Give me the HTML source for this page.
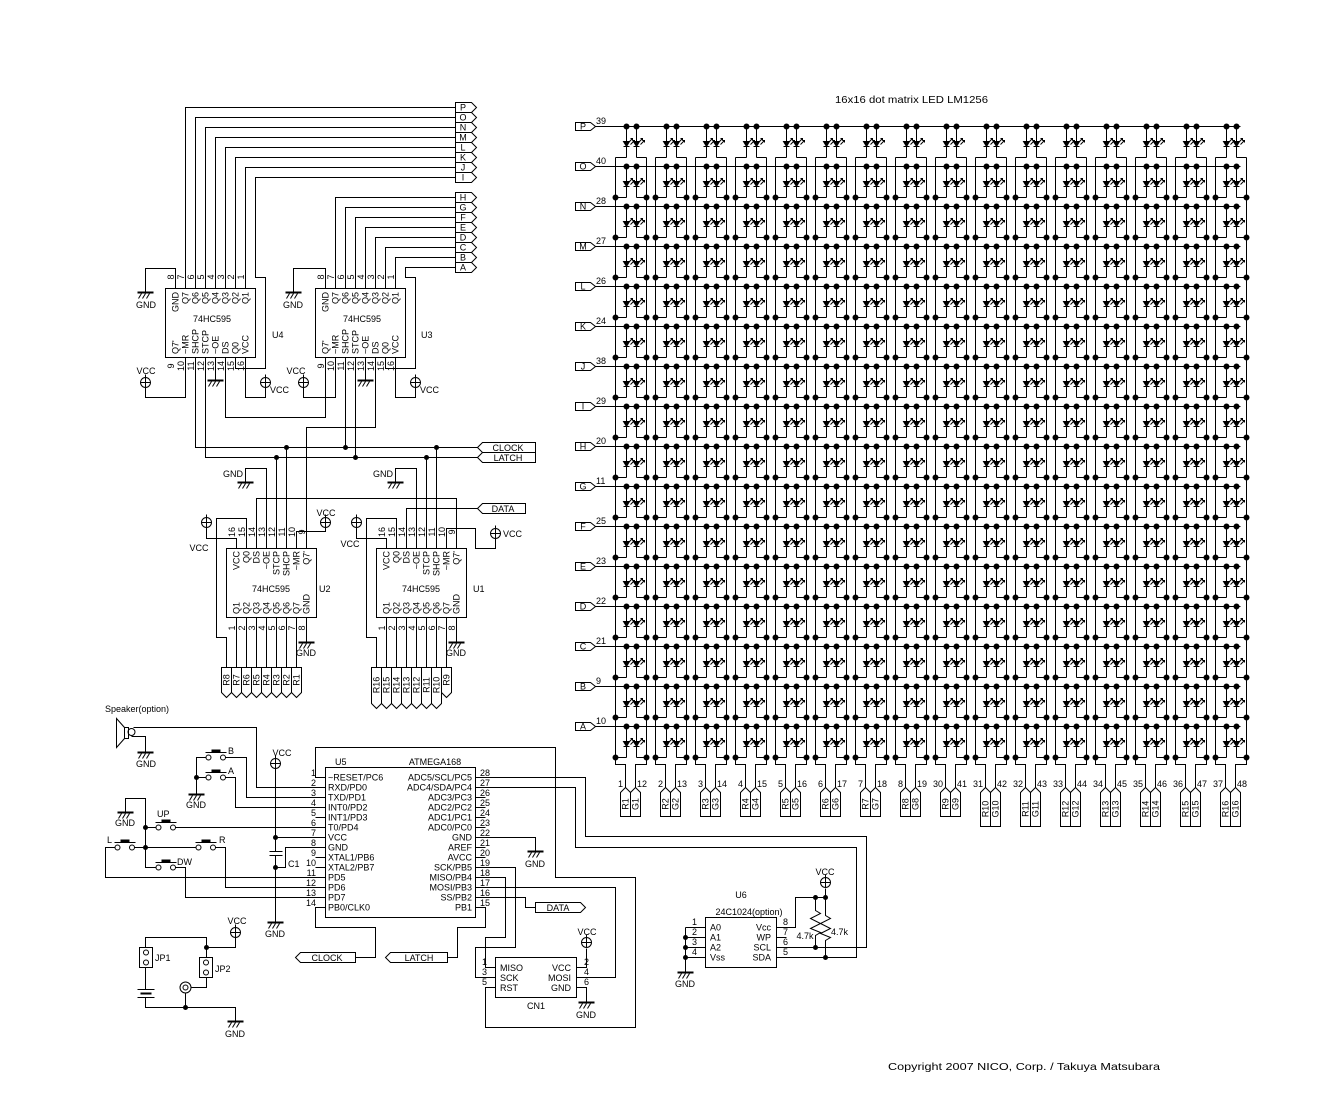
<!DOCTYPE html>
<html><head><meta charset="utf-8"><style>
html,body{margin:0;padding:0;background:#fff}
svg{display:block}
text{font-family:"Liberation Sans",sans-serif;font-size:9px;fill:#000}
.m{text-anchor:middle}.e{text-anchor:end}
.b{font-size:10px}
</style></head><body>
<svg xmlns="http://www.w3.org/2000/svg" width="1323" height="1105" viewBox="0 0 1323 1105">
<rect width="1323" height="1105" fill="#fff"/>
<defs>
<g id="gnd" fill="none" stroke="#000"><path d="M-8,0H8" stroke-width="2"/><path d="M-4,1L-7,6M0,1L-3,6M4,1L1,6"/></g>
<g id="vcc" fill="none" stroke="#000"><circle r="5"/><path d="M-5,0H5M0,-8V5"/></g>
<g id="sw" stroke="#000"><circle r="2.5" fill="#fff"/><circle cx="14.5" r="2.5" fill="#fff"/><path d="M-3,-5H18" fill="none"/><rect x="3" y="-8" width="9" height="3" fill="#000" stroke="none"/></g>
<g id="led" fill="none" stroke="#000"><path d="M0,0V15M0,20V31M-3,20H3M2,16L6,12M4,12H6V14M4,18L8,14M6,14H8V16"/><path d="M-3,15H3L0,20Z" fill="#000"/></g>
<g id="c"><path d="M0,-9V31H11M21,31H31V-9" fill="none" stroke="#000"/><use href="#led" x="11"/><use href="#led" x="21"/><g fill="#000"><circle cx="11" r="2.5"/><circle cx="21" r="2.5"/><circle cy="31" r="2.5"/><circle cx="31" cy="31" r="2.5"/></g></g>
<g id="ct"><path d="M0,31H11M21,31H31" fill="none" stroke="#000"/><use href="#led" x="11"/><use href="#led" x="21"/><g fill="#000"><circle cx="11" r="2.5"/><circle cx="21" r="2.5"/></g></g>
<g id="rn"><use href="#c"/><use href="#c" x="40"/><use href="#c" x="80"/><use href="#c" x="120"/><use href="#c" x="160"/><use href="#c" x="200"/><use href="#c" x="240"/><use href="#c" x="280"/><use href="#c" x="320"/><use href="#c" x="360"/><use href="#c" x="400"/><use href="#c" x="440"/><use href="#c" x="480"/><use href="#c" x="520"/><use href="#c" x="560"/><use href="#c" x="600"/></g>
<g id="rt"><use href="#ct"/><use href="#ct" x="40"/><use href="#ct" x="80"/><use href="#ct" x="120"/><use href="#ct" x="160"/><use href="#ct" x="200"/><use href="#ct" x="240"/><use href="#ct" x="280"/><use href="#ct" x="320"/><use href="#ct" x="360"/><use href="#ct" x="400"/><use href="#ct" x="440"/><use href="#ct" x="480"/><use href="#ct" x="520"/><use href="#ct" x="560"/><use href="#ct" x="600"/></g>
<path id="cb" fill="none" stroke="#000" d="M0,31V38H10V61M31,31V38H20V61M5,90V66L10,61L15,66L20,61L25,66V90ZM15,66V90"/>
<path id="cbl" fill="none" stroke="#000" d="M0,31V38H10V61M31,31V38H20V61M5,100V66L10,61L15,66L20,61L25,66V100ZM15,66V100"/>
<path id="dn" fill="none" stroke="#000" d="M-5,0H5V25L0,30L-5,25Z"/>
<path id="dnl" fill="none" stroke="#000" d="M-5,0H5V36L0,41L-5,36Z"/>
<path id="rc" fill="none" stroke="#000" d="M0,-5H16L21,0L16,5H0Z"/>
<path id="mc" fill="none" stroke="#000" d="M0,-4H15L20,0L15,4H0Z"/>
</defs>

<g transform="translate(.5,.5)" fill="none" stroke="#000" stroke-width="1">
<!-- LED matrix -->
<use href="#rt" x="615" y="126"/>
<use href="#rn" x="615" y="166"/><use href="#rn" x="615" y="206"/><use href="#rn" x="615" y="246"/><use href="#rn" x="615" y="286"/><use href="#rn" x="615" y="326"/><use href="#rn" x="615" y="366"/><use href="#rn" x="615" y="406"/><use href="#rn" x="615" y="446"/><use href="#rn" x="615" y="486"/><use href="#rn" x="615" y="526"/><use href="#rn" x="615" y="566"/><use href="#rn" x="615" y="606"/><use href="#rn" x="615" y="646"/><use href="#rn" x="615" y="686"/><use href="#rn" x="615" y="726"/>
<path d="M595,126H1240M595,166H1240M595,206H1240M595,246H1240M595,286H1240M595,326H1240M595,366H1240M595,406H1240M595,446H1240M595,486H1240M595,526H1240M595,566H1240M595,606H1240M595,646H1240M595,686H1240M595,726H1240"/>
<use href="#mc" x="575" y="126"/><use href="#mc" x="575" y="166"/><use href="#mc" x="575" y="206"/><use href="#mc" x="575" y="246"/><use href="#mc" x="575" y="286"/><use href="#mc" x="575" y="326"/><use href="#mc" x="575" y="366"/><use href="#mc" x="575" y="406"/><use href="#mc" x="575" y="446"/><use href="#mc" x="575" y="486"/><use href="#mc" x="575" y="526"/><use href="#mc" x="575" y="566"/><use href="#mc" x="575" y="606"/><use href="#mc" x="575" y="646"/><use href="#mc" x="575" y="686"/><use href="#mc" x="575" y="726"/>
<use href="#cb" x="615" y="726"/><use href="#cb" x="655" y="726"/><use href="#cb" x="695" y="726"/><use href="#cb" x="735" y="726"/><use href="#cb" x="775" y="726"/><use href="#cb" x="815" y="726"/><use href="#cb" x="855" y="726"/><use href="#cb" x="895" y="726"/><use href="#cb" x="935" y="726"/>
<use href="#cbl" x="975" y="726"/><use href="#cbl" x="1015" y="726"/><use href="#cbl" x="1055" y="726"/><use href="#cbl" x="1095" y="726"/><use href="#cbl" x="1135" y="726"/><use href="#cbl" x="1175" y="726"/><use href="#cbl" x="1215" y="726"/>

<!-- U4 -->
<path d="M165,288h90v69h-90z"/>
<path d="M175,288V268H145V292M185,288V107H455M195,288V117H455M205,288V127H455M215,288V137H455M225,288V147H455M235,288V157H455M245,288V167H455M455,177H255V277H265V368H235V357"/>
<path d="M185,357V397H145V387M195,357V447H477M205,357V457H477M215,357V380M225,357V417H325V357M245,357V397H265V387"/>
<use href="#gnd" x="145" y="292"/><use href="#gnd" x="215" y="380"/>
<use href="#vcc" x="145" y="382"/><use href="#vcc" x="265" y="382"/>
<!-- U3 -->
<path d="M315,288h90v69h-90z"/>
<path d="M325,288V268H293V292M335,288V197H455M345,288V207H455M355,288V217H455M365,288V227H455M375,288V237H455M385,288V247H455M395,288V257H455M455,267H405V277H415V368H385V357"/>
<path d="M335,357V397H303V387M345,357V447M355,357V457M365,357V380M375,357V427H306V548M395,357V397H415V387"/>
<use href="#gnd" x="293" y="292"/><use href="#gnd" x="365" y="380"/>
<use href="#vcc" x="303" y="382"/><use href="#vcc" x="415" y="382"/>
<use href="#rc" x="455" y="107"/><use href="#rc" x="455" y="117"/><use href="#rc" x="455" y="127"/><use href="#rc" x="455" y="137"/><use href="#rc" x="455" y="147"/><use href="#rc" x="455" y="157"/><use href="#rc" x="455" y="167"/><use href="#rc" x="455" y="177"/>
<use href="#rc" x="455" y="197"/><use href="#rc" x="455" y="207"/><use href="#rc" x="455" y="217"/><use href="#rc" x="455" y="227"/><use href="#rc" x="455" y="237"/><use href="#rc" x="455" y="247"/><use href="#rc" x="455" y="257"/><use href="#rc" x="455" y="267"/>
<path d="M477,447L482,442H535V452H482ZM477,457L482,452H535V462H482Z"/>
<!-- U2 -->
<path d="M226,548h90v69h-90z"/>
<path d="M236,548V538H206V527M246,548V518H216V637H226V667M256,548V498H456V548M266,548V468H245V482M276,548V457M286,548V447M296,548V531H325V527"/>
<path d="M236,617V667M246,617V667M256,617V667M266,617V667M276,617V667M286,617V667M296,617V667M306,617V642"/>
<use href="#vcc" x="206" y="522"/><use href="#vcc" x="325" y="522"/><use href="#gnd" x="245" y="482"/><use href="#gnd" x="306" y="642"/>
<use href="#dn" x="226" y="667"/><use href="#dn" x="236" y="667"/><use href="#dn" x="246" y="667"/><use href="#dn" x="256" y="667"/><use href="#dn" x="266" y="667"/><use href="#dn" x="276" y="667"/><use href="#dn" x="286" y="667"/><use href="#dn" x="296" y="667"/>
<!-- U1 -->
<path d="M376,548h90v69h-90z"/>
<path d="M386,548V538H356V527M396,548V518H366V637H376V667M406,548V508H477M416,548V468H395V482M426,548V457M436,548V447M446,548V528H475V548H495V538"/>
<path d="M386,617V667M396,617V667M406,617V667M416,617V667M426,617V667M436,617V667M446,617V667M456,617V642"/>
<use href="#vcc" x="356" y="522"/><use href="#vcc" x="495" y="533"/><use href="#gnd" x="395" y="482"/><use href="#gnd" x="456" y="642"/>
<use href="#dnl" x="376" y="667"/><use href="#dnl" x="386" y="667"/><use href="#dnl" x="396" y="667"/><use href="#dnl" x="406" y="667"/><use href="#dnl" x="416" y="667"/><use href="#dnl" x="426" y="667"/><use href="#dnl" x="436" y="667"/><use href="#dn" x="446" y="667"/>
<path d="M477,508L482,503H525V513H482Z"/>

<!-- Speaker & switches -->
<path d="M116,718L124,727V738L116,747Z"/>
<path d="M124,727h4v11h-4z"/>
<circle cx="131" cy="731.5" r="3.5"/>
<path d="M133,727H256V787H325M131,736H145V752"/>
<use href="#gnd" x="145" y="752"/>
<use href="#sw" x="208" y="757"/><use href="#sw" x="208" y="777"/><use href="#sw" x="158" y="827"/><use href="#sw" x="117" y="847"/><use href="#sw" x="198" y="847"/><use href="#sw" x="158" y="867"/>
<path d="M205.5,757H196V794M225,757H246V797H325M205.5,777H196M225,777H235V807H325"/>
<use href="#gnd" x="196" y="794"/>
<path d="M125,812V798H145V867H155.5M145,827H155.5M175,827H325M134,847H195.5M114.5,847H105V877H325M215,847H225V887H325M175,867H185V897H325"/>
<use href="#gnd" x="125" y="812"/>
<!-- VCC/C1 -->
<use href="#vcc" x="275" y="763"/>
<path d="M275,768V851M269,851H282M269,855H282M275,855V922M275,837H325M325,847H285V867H275"/>
<use href="#gnd" x="275" y="922"/>
<!-- U5 -->
<path d="M325,767h150v150h-150z"/>
<path d="M315,817H325M315,857H325M315,867H325"/>
<path d="M325,777H315V747H555V877H635V1027H485V987H495"/>
<path d="M325,907H315V927H375V957H355"/>
<path d="M295,957L300,952H355V962H300Z"/>
<path d="M475,907H485V927H457V957H447"/>
<path d="M385,957L390,952H447V962H390Z"/>
<path d="M475,797H485M475,807H485M475,817H485M475,827H485M475,847H485M475,857H485"/>
<path d="M475,777H585V836H866V947H776M475,787H575V847H856V957H776"/>
<path d="M475,837H535V851"/><use href="#gnd" x="535" y="851"/>
<path d="M475,867H515V947H475V977H495M475,877H505V937H485V967H495M475,887H615V977H576M475,897H525V907H535"/>
<path d="M535,902H580L585,907L580,912H535Z"/>
<!-- CN1 -->
<path d="M495,957h81v40h-81z"/>
<path d="M576,967H586V948M576,987H586V1002"/>
<use href="#vcc" x="586" y="942"/><use href="#gnd" x="586" y="1002"/>
<!-- JP -->
<use href="#vcc" x="235" y="932"/>
<path d="M235,937V947H206M145,947V937H206V957"/>
<path d="M139,947h13v20h-13zM199,957h13v20h-13z"/>
<circle cx="145.5" cy="952" r="2.5"/><circle cx="145.5" cy="962" r="2.5"/><circle cx="205.5" cy="962" r="2.5"/><circle cx="205.5" cy="972" r="2.5"/>
<path d="M145,967V989M137,989H154M137,997H154M145,997V1007H235V1021M206,977V987H191M185,993V1007"/>
<path d="M140,993H151" stroke-width="2"/>
<circle cx="185" cy="987" r="5.5"/><circle cx="185" cy="987" r="2.5"/>
<use href="#gnd" x="235" y="1021"/>
<!-- U6 -->
<path d="M705,917h71v50h-71z"/>
<path d="M685,927H705M685,937H705M685,947H705M685,957H705M685,927V972"/>
<use href="#gnd" x="685" y="972"/>
<path d="M776,927H795V897H825M776,937H786M825,888V897"/>
<use href="#vcc" x="825" y="882"/>
<path d="M815,897V910L820,913L810,918L820,923L810,928L820,932L815,935V947M825,897V915L830,918L820,923L830,928L820,933L830,937L825,940V957"/>
</g>

<!-- dots -->
<g fill="#000" transform="translate(.5,.5)">
<circle cx="286" cy="447" r="2.5"/><circle cx="345" cy="447" r="2.5"/><circle cx="436" cy="447" r="2.5"/>
<circle cx="276" cy="457" r="2.5"/><circle cx="355" cy="457" r="2.5"/><circle cx="426" cy="457" r="2.5"/>
<circle cx="196" cy="777" r="2.5"/><circle cx="145" cy="827" r="2.5"/><circle cx="145" cy="847" r="2.5"/>
<circle cx="275" cy="837" r="2.5"/><circle cx="275" cy="867" r="2.5"/>
<circle cx="206" cy="947" r="2.5"/><circle cx="185" cy="1007" r="2.5"/>
<circle cx="685" cy="937" r="2.5"/><circle cx="685" cy="947" r="2.5"/><circle cx="685" cy="957" r="2.5"/>
<circle cx="815" cy="897" r="2.5"/><circle cx="825" cy="897" r="2.5"/><circle cx="815" cy="947" r="2.5"/><circle cx="825" cy="957" r="2.5"/>
</g>

<!-- TEXT -->
<text x="835" y="103" textLength="153" lengthAdjust="spacingAndGlyphs" style="font-size:10.5px">16x16 dot matrix LED LM1256</text>
<text x="888" y="1070" textLength="272" lengthAdjust="spacingAndGlyphs" style="font-size:10.5px">Copyright 2007 NICO, Corp. / Takuya Matsubara</text>

<!-- matrix row labels -->
<g class="m">
<text x="583" y="129.5">P</text><text x="583" y="169.5">O</text><text x="583" y="209.5">N</text><text x="583" y="249.5">M</text><text x="583" y="289.5">L</text><text x="583" y="329.5">K</text><text x="583" y="369.5">J</text><text x="583" y="409.5">I</text><text x="583" y="449.5">H</text><text x="583" y="489.5">G</text><text x="583" y="529.5">F</text><text x="583" y="569.5">E</text><text x="583" y="609.5">D</text><text x="583" y="649.5">C</text><text x="583" y="689.5">B</text><text x="583" y="729.5">A</text>
</g>
<g>
<text x="596" y="124">39</text><text x="596" y="164">40</text><text x="596" y="204">28</text><text x="596" y="244">27</text><text x="596" y="284">26</text><text x="596" y="324">24</text><text x="596" y="364">38</text><text x="596" y="404">29</text><text x="596" y="444">20</text><text x="596" y="484">11</text><text x="596" y="524">25</text><text x="596" y="564">23</text><text x="596" y="604">22</text><text x="596" y="644">21</text><text x="596" y="684">9</text><text x="596" y="724">10</text>
</g>
<!-- matrix column pin numbers -->
<g class="e">
<text x="623" y="787">1</text><text x="663" y="787">2</text><text x="703" y="787">3</text><text x="743" y="787">4</text><text x="783" y="787">5</text><text x="823" y="787">6</text><text x="863" y="787">7</text><text x="903" y="787">8</text><text x="943" y="787">30</text><text x="983" y="787">31</text><text x="1023" y="787">32</text><text x="1063" y="787">33</text><text x="1103" y="787">34</text><text x="1143" y="787">35</text><text x="1183" y="787">36</text><text x="1223" y="787">37</text>
</g>
<g>
<text x="637" y="787">12</text><text x="677" y="787">13</text><text x="717" y="787">14</text><text x="757" y="787">15</text><text x="797" y="787">16</text><text x="837" y="787">17</text><text x="877" y="787">18</text><text x="917" y="787">19</text><text x="957" y="787">41</text><text x="997" y="787">42</text><text x="1037" y="787">43</text><text x="1077" y="787">44</text><text x="1117" y="787">45</text><text x="1157" y="787">46</text><text x="1197" y="787">47</text><text x="1237" y="787">48</text>
</g>
<!-- matrix column connector labels -->
<g class="m b">
<text transform="translate(628.5,804) rotate(-90)">R1</text><text transform="translate(638.5,804) rotate(-90)">G1</text>
<text transform="translate(668.5,804) rotate(-90)">R2</text><text transform="translate(678.5,804) rotate(-90)">G2</text>
<text transform="translate(708.5,804) rotate(-90)">R3</text><text transform="translate(718.5,804) rotate(-90)">G3</text>
<text transform="translate(748.5,804) rotate(-90)">R4</text><text transform="translate(758.5,804) rotate(-90)">G4</text>
<text transform="translate(788.5,804) rotate(-90)">R5</text><text transform="translate(798.5,804) rotate(-90)">G5</text>
<text transform="translate(828.5,804) rotate(-90)">R6</text><text transform="translate(838.5,804) rotate(-90)">G6</text>
<text transform="translate(868.5,804) rotate(-90)">R7</text><text transform="translate(878.5,804) rotate(-90)">G7</text>
<text transform="translate(908.5,804) rotate(-90)">R8</text><text transform="translate(918.5,804) rotate(-90)">G8</text>
<text transform="translate(948.5,804) rotate(-90)">R9</text><text transform="translate(958.5,804) rotate(-90)">G9</text>
<text transform="translate(988.5,809) rotate(-90)">R10</text><text transform="translate(998.5,809) rotate(-90)">G10</text>
<text transform="translate(1028.5,809) rotate(-90)">R11</text><text transform="translate(1038.5,809) rotate(-90)">G11</text>
<text transform="translate(1068.5,809) rotate(-90)">R12</text><text transform="translate(1078.5,809) rotate(-90)">G12</text>
<text transform="translate(1108.5,809) rotate(-90)">R13</text><text transform="translate(1118.5,809) rotate(-90)">G13</text>
<text transform="translate(1148.5,809) rotate(-90)">R14</text><text transform="translate(1158.5,809) rotate(-90)">G14</text>
<text transform="translate(1188.5,809) rotate(-90)">R15</text><text transform="translate(1198.5,809) rotate(-90)">G15</text>
<text transform="translate(1228.5,809) rotate(-90)">R16</text><text transform="translate(1238.5,809) rotate(-90)">G16</text>
</g>

<!-- top-left connectors -->
<g class="m">
<text x="463" y="110.5">P</text><text x="463" y="120.5">O</text><text x="463" y="130.5">N</text><text x="463" y="140.5">M</text><text x="463" y="150.5">L</text><text x="463" y="160.5">K</text><text x="463" y="170.5">J</text><text x="463" y="180.5">I</text>
<text x="463" y="200.5">H</text><text x="463" y="210.5">G</text><text x="463" y="220.5">F</text><text x="463" y="230.5">E</text><text x="463" y="240.5">D</text><text x="463" y="250.5">C</text><text x="463" y="260.5">B</text><text x="463" y="270.5">A</text>
<text x="508" y="451">CLOCK</text><text x="508" y="461">LATCH</text><text x="503" y="512">DATA</text>
</g>

<!-- U4 -->
<g class="e">
<text transform="translate(178.5,292) rotate(-90)">GND</text><text transform="translate(188.5,292) rotate(-90)">Q7</text><text transform="translate(198.5,292) rotate(-90)">Q6</text><text transform="translate(208.5,292) rotate(-90)">Q5</text><text transform="translate(218.5,292) rotate(-90)">Q4</text><text transform="translate(228.5,292) rotate(-90)">Q3</text><text transform="translate(238.5,292) rotate(-90)">Q2</text><text transform="translate(248.5,292) rotate(-90)">Q1</text>
<text transform="translate(328.5,292) rotate(-90)">GND</text><text transform="translate(338.5,292) rotate(-90)">Q7</text><text transform="translate(348.5,292) rotate(-90)">Q6</text><text transform="translate(358.5,292) rotate(-90)">Q5</text><text transform="translate(368.5,292) rotate(-90)">Q4</text><text transform="translate(378.5,292) rotate(-90)">Q3</text><text transform="translate(388.5,292) rotate(-90)">Q2</text><text transform="translate(398.5,292) rotate(-90)">Q1</text>
<text transform="translate(239.5,551) rotate(-90)">VCC</text><text transform="translate(249.5,551) rotate(-90)">Q0</text><text transform="translate(259.5,551) rotate(-90)">DS</text><text transform="translate(269.5,551) rotate(-90)">~OE</text><text transform="translate(279.5,551) rotate(-90)">STCP</text><text transform="translate(289.5,551) rotate(-90)">SHCP</text><text transform="translate(299.5,551) rotate(-90)">~MR</text><text transform="translate(309.5,551) rotate(-90)">Q7'</text>
<text transform="translate(389.5,551) rotate(-90)">VCC</text><text transform="translate(399.5,551) rotate(-90)">Q0</text><text transform="translate(409.5,551) rotate(-90)">DS</text><text transform="translate(419.5,551) rotate(-90)">~OE</text><text transform="translate(429.5,551) rotate(-90)">STCP</text><text transform="translate(439.5,551) rotate(-90)">SHCP</text><text transform="translate(449.5,551) rotate(-90)">~MR</text><text transform="translate(459.5,551) rotate(-90)">Q7'</text>
</g>
<g>
<text transform="translate(178.5,354) rotate(-90)">Q7'</text><text transform="translate(188.5,354) rotate(-90)">~MR</text><text transform="translate(198.5,354) rotate(-90)">SHCP</text><text transform="translate(208.5,354) rotate(-90)">STCP</text><text transform="translate(218.5,354) rotate(-90)">~OE</text><text transform="translate(228.5,354) rotate(-90)">DS</text><text transform="translate(238.5,354) rotate(-90)">Q0</text><text transform="translate(248.5,354) rotate(-90)">VCC</text>
<text transform="translate(328.5,354) rotate(-90)">Q7'</text><text transform="translate(338.5,354) rotate(-90)">~MR</text><text transform="translate(348.5,354) rotate(-90)">SHCP</text><text transform="translate(358.5,354) rotate(-90)">STCP</text><text transform="translate(368.5,354) rotate(-90)">~OE</text><text transform="translate(378.5,354) rotate(-90)">DS</text><text transform="translate(388.5,354) rotate(-90)">Q0</text><text transform="translate(398.5,354) rotate(-90)">VCC</text>
<text transform="translate(239.5,614) rotate(-90)">Q1</text><text transform="translate(249.5,614) rotate(-90)">Q2</text><text transform="translate(259.5,614) rotate(-90)">Q3</text><text transform="translate(269.5,614) rotate(-90)">Q4</text><text transform="translate(279.5,614) rotate(-90)">Q5</text><text transform="translate(289.5,614) rotate(-90)">Q6</text><text transform="translate(299.5,614) rotate(-90)">Q7</text><text transform="translate(309.5,614) rotate(-90)">GND</text>
<text transform="translate(389.5,614) rotate(-90)">Q1</text><text transform="translate(399.5,614) rotate(-90)">Q2</text><text transform="translate(409.5,614) rotate(-90)">Q3</text><text transform="translate(419.5,614) rotate(-90)">Q4</text><text transform="translate(429.5,614) rotate(-90)">Q5</text><text transform="translate(439.5,614) rotate(-90)">Q6</text><text transform="translate(449.5,614) rotate(-90)">Q7</text><text transform="translate(459.5,614) rotate(-90)">GND</text>
</g>
<!-- pin numbers of 74HC595s -->
<g class="m">
<text transform="translate(174,277) rotate(-90)">8</text><text transform="translate(184,277) rotate(-90)">7</text><text transform="translate(194,277) rotate(-90)">6</text><text transform="translate(204,277) rotate(-90)">5</text><text transform="translate(214,277) rotate(-90)">4</text><text transform="translate(224,277) rotate(-90)">3</text><text transform="translate(234,277) rotate(-90)">2</text><text transform="translate(244,277) rotate(-90)">1</text>
<text transform="translate(174,366) rotate(-90)">9</text><text transform="translate(184,366) rotate(-90)">10</text><text transform="translate(194,366) rotate(-90)">11</text><text transform="translate(204,366) rotate(-90)">12</text><text transform="translate(214,366) rotate(-90)">13</text><text transform="translate(224,366) rotate(-90)">14</text><text transform="translate(234,366) rotate(-90)">15</text><text transform="translate(244,366) rotate(-90)">16</text>
<text transform="translate(324,277) rotate(-90)">8</text><text transform="translate(334,277) rotate(-90)">7</text><text transform="translate(344,277) rotate(-90)">6</text><text transform="translate(354,277) rotate(-90)">5</text><text transform="translate(364,277) rotate(-90)">4</text><text transform="translate(374,277) rotate(-90)">3</text><text transform="translate(384,277) rotate(-90)">2</text><text transform="translate(394,277) rotate(-90)">1</text>
<text transform="translate(324,366) rotate(-90)">9</text><text transform="translate(334,366) rotate(-90)">10</text><text transform="translate(344,366) rotate(-90)">11</text><text transform="translate(354,366) rotate(-90)">12</text><text transform="translate(364,366) rotate(-90)">13</text><text transform="translate(374,366) rotate(-90)">14</text><text transform="translate(384,366) rotate(-90)">15</text><text transform="translate(394,366) rotate(-90)">16</text>
<text transform="translate(235,532) rotate(-90)">16</text><text transform="translate(245,532) rotate(-90)">15</text><text transform="translate(255,532) rotate(-90)">14</text><text transform="translate(265,532) rotate(-90)">13</text><text transform="translate(275,532) rotate(-90)">12</text><text transform="translate(285,532) rotate(-90)">11</text><text transform="translate(295,532) rotate(-90)">10</text><text transform="translate(305,532) rotate(-90)">9</text>
<text transform="translate(235,628) rotate(-90)">1</text><text transform="translate(245,628) rotate(-90)">2</text><text transform="translate(255,628) rotate(-90)">3</text><text transform="translate(265,628) rotate(-90)">4</text><text transform="translate(275,628) rotate(-90)">5</text><text transform="translate(285,628) rotate(-90)">6</text><text transform="translate(295,628) rotate(-90)">7</text><text transform="translate(305,628) rotate(-90)">8</text>
<text transform="translate(385,532) rotate(-90)">16</text><text transform="translate(395,532) rotate(-90)">15</text><text transform="translate(405,532) rotate(-90)">14</text><text transform="translate(415,532) rotate(-90)">13</text><text transform="translate(425,532) rotate(-90)">12</text><text transform="translate(435,532) rotate(-90)">11</text><text transform="translate(445,532) rotate(-90)">10</text><text transform="translate(455,532) rotate(-90)">9</text>
<text transform="translate(385,628) rotate(-90)">1</text><text transform="translate(395,628) rotate(-90)">2</text><text transform="translate(405,628) rotate(-90)">3</text><text transform="translate(415,628) rotate(-90)">4</text><text transform="translate(425,628) rotate(-90)">5</text><text transform="translate(435,628) rotate(-90)">6</text><text transform="translate(445,628) rotate(-90)">7</text><text transform="translate(455,628) rotate(-90)">8</text>
</g>
<!-- chip names -->
<g class="m b">
<text x="212" y="322">74HC595</text><text x="362" y="322">74HC595</text><text x="271" y="592">74HC595</text><text x="421" y="592">74HC595</text>
</g>
<g class="b">
<text x="272" y="338">U4</text><text x="421" y="338">U3</text><text x="319" y="592">U2</text><text x="473" y="592">U1</text>
</g>
<!-- U1/U2 output connector labels -->
<g class="m b">
<text transform="translate(229.5,680) rotate(-90)">R8</text><text transform="translate(239.5,680) rotate(-90)">R7</text><text transform="translate(249.5,680) rotate(-90)">R6</text><text transform="translate(259.5,680) rotate(-90)">R5</text><text transform="translate(269.5,680) rotate(-90)">R4</text><text transform="translate(279.5,680) rotate(-90)">R3</text><text transform="translate(289.5,680) rotate(-90)">R2</text><text transform="translate(299.5,680) rotate(-90)">R1</text>
<text transform="translate(379.5,685) rotate(-90)">R16</text><text transform="translate(389.5,685) rotate(-90)">R15</text><text transform="translate(399.5,685) rotate(-90)">R14</text><text transform="translate(409.5,685) rotate(-90)">R13</text><text transform="translate(419.5,685) rotate(-90)">R12</text><text transform="translate(429.5,685) rotate(-90)">R11</text><text transform="translate(439.5,685) rotate(-90)">R10</text><text transform="translate(449.5,680) rotate(-90)">R9</text>
</g>
<!-- GND / VCC labels -->
<g class="m">
<text x="146" y="308">GND</text><text x="293" y="308">GND</text>
<text x="233" y="477">GND</text><text x="383" y="477">GND</text><text x="306" y="656">GND</text><text x="456" y="656">GND</text>
<text x="146" y="767">GND</text><text x="196" y="808">GND</text><text x="125" y="826">GND</text><text x="275" y="937">GND</text><text x="535" y="867">GND</text><text x="586" y="1018">GND</text><text x="685" y="987">GND</text><text x="235" y="1037">GND</text>
<text x="146" y="374">VCC</text><text x="296" y="374">VCC</text><text x="199" y="551">VCC</text><text x="326" y="516">VCC</text><text x="350" y="547">VCC</text>
<text x="282" y="756">VCC</text><text x="237" y="924">VCC</text><text x="587" y="935">VCC</text><text x="825" y="875">VCC</text>
</g>
<text x="270" y="393">VCC</text><text x="420" y="393">VCC</text><text x="503" y="537">VCC</text>

<!-- lower left labels -->
<text x="105" y="712">Speaker(option)</text>
<text x="228" y="754">B</text><text x="228" y="774">A</text><text x="157" y="817">UP</text><text x="107" y="843">L</text><text x="219" y="843">R</text><text x="177" y="865">DW</text>
<text x="288" y="867">C1</text>
<text x="155" y="961">JP1</text><text x="215" y="972">JP2</text>

<!-- U5 -->
<text x="335" y="765">U5</text><text class="m" x="435" y="765">ATMEGA168</text>
<g style="font-size:9.5px">
<text x="328" y="780.5">~RESET/PC6</text><text x="328" y="790.5">RXD/PD0</text><text x="328" y="800.5">TXD/PD1</text><text x="328" y="810.5">INT0/PD2</text><text x="328" y="820.5">INT1/PD3</text><text x="328" y="830.5">T0/PD4</text><text x="328" y="840.5">VCC</text><text x="328" y="850.5">GND</text><text x="328" y="860.5">XTAL1/PB6</text><text x="328" y="870.5">XTAL2/PB7</text><text x="328" y="880.5">PD5</text><text x="328" y="890.5">PD6</text><text x="328" y="900.5">PD7</text><text x="328" y="910.5">PB0/CLK0</text>
</g>
<g class="e" style="font-size:9.5px">
<text x="472" y="780.5">ADC5/SCL/PC5</text><text x="472" y="790.5">ADC4/SDA/PC4</text><text x="472" y="800.5">ADC3/PC3</text><text x="472" y="810.5">ADC2/PC2</text><text x="472" y="820.5">ADC1/PC1</text><text x="472" y="830.5">ADC0/PC0</text><text x="472" y="840.5">GND</text><text x="472" y="850.5">AREF</text><text x="472" y="860.5">AVCC</text><text x="472" y="870.5">SCK/PB5</text><text x="472" y="880.5">MISO/PB4</text><text x="472" y="890.5">MOSI/PB3</text><text x="472" y="900.5">SS/PB2</text><text x="472" y="910.5">PB1</text>
</g>
<g class="e">
<text x="316" y="776">1</text><text x="316" y="786">2</text><text x="316" y="796">3</text><text x="316" y="806">4</text><text x="316" y="816">5</text><text x="316" y="826">6</text><text x="316" y="836">7</text><text x="316" y="846">8</text><text x="316" y="856">9</text><text x="316" y="866">10</text><text x="316" y="876">11</text><text x="316" y="886">12</text><text x="316" y="896">13</text><text x="316" y="906">14</text>
</g>
<g>
<text x="480" y="776">28</text><text x="480" y="786">27</text><text x="480" y="796">26</text><text x="480" y="806">25</text><text x="480" y="816">24</text><text x="480" y="826">23</text><text x="480" y="836">22</text><text x="480" y="846">21</text><text x="480" y="856">20</text><text x="480" y="866">19</text><text x="480" y="876">18</text><text x="480" y="886">17</text><text x="480" y="896">16</text><text x="480" y="906">15</text>
</g>
<g class="m">
<text x="327" y="961">CLOCK</text><text x="419" y="961">LATCH</text><text x="558" y="911">DATA</text>
</g>

<!-- CN1 -->
<text x="500" y="971">MISO</text><text x="500" y="981">SCK</text><text x="500" y="991">RST</text>
<g class="e"><text x="571" y="971">VCC</text><text x="571" y="981">MOSI</text><text x="571" y="991">GND</text>
<text x="487" y="965">1</text><text x="487" y="975">3</text><text x="487" y="985">5</text></g>
<text x="584" y="965">2</text><text x="584" y="975">4</text><text x="584" y="985">6</text>
<text class="m" x="536" y="1009">CN1</text>

<!-- U6 -->
<text class="m" x="741" y="898">U6</text>
<text class="m" x="749" y="915">24C1024(option)</text>
<text x="710" y="930.5">A0</text><text x="710" y="940.5">A1</text><text x="710" y="950.5">A2</text><text x="710" y="960.5">Vss</text>
<g class="e"><text x="771" y="930.5">Vcc</text><text x="771" y="940.5">WP</text><text x="771" y="950.5">SCL</text><text x="771" y="960.5">SDA</text></g>
<text x="692" y="925">1</text><text x="692" y="935">2</text><text x="692" y="945">3</text><text x="692" y="955">4</text>
<text x="783" y="925">8</text><text x="783" y="935">7</text><text x="783" y="945">6</text><text x="783" y="955">5</text>
<text class="m" x="805" y="939">4.7k</text><text x="831" y="935">4.7k</text>
</svg>
</body></html>
